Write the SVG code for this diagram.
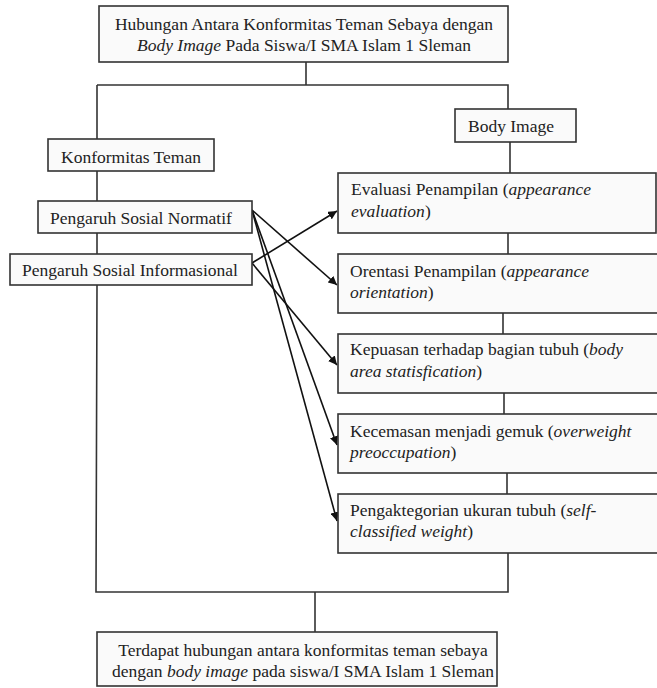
<svg xmlns="http://www.w3.org/2000/svg" width="657" height="688" viewBox="0 0 657 688">
<style>
.box{fill:#fafafa;stroke:#333;stroke-width:1.6}
.ln{fill:none;stroke:#333;stroke-width:1.6}
.ar{fill:none;stroke:#111;stroke-width:1.6}
text{font-family:"Liberation Serif","Times New Roman",serif;font-size:17.5px;fill:#222}
.c{text-anchor:middle}
.i{font-style:italic}
</style>
<defs>
<marker id="ah" viewBox="0 0 10 10" refX="10" refY="5" markerWidth="5.5" markerHeight="5.5" orient="auto" markerUnits="strokeWidth">
<path d="M0,0 L10,5 L0,10 z" fill="#111"/>
</marker>
</defs>
<rect width="657" height="688" fill="#fff"/>
<g id="connectors">
<line class="ln" x1="306" y1="62" x2="306" y2="85"/>
<polyline class="ln" points="97,85 508,85 508,109"/>
<line class="ln" x1="97" y1="85" x2="97" y2="139"/>
<line class="ln" x1="97" y1="171" x2="97" y2="201"/>
<line class="ln" x1="97" y1="233" x2="97" y2="254"/>
<polyline class="ln" points="97,285 96,592 508,592 508,553"/>
<line class="ln" x1="510" y1="142" x2="510" y2="173"/>
<line class="ln" x1="508" y1="233" x2="508" y2="254"/>
<line class="ln" x1="503" y1="313" x2="503" y2="334"/>
<line class="ln" x1="504" y1="393" x2="504" y2="414"/>
<line class="ln" x1="507" y1="473" x2="507" y2="494"/>
<line class="ln" x1="315" y1="592" x2="315" y2="632"/>
<line class="ar" x1="252" y1="210" x2="337" y2="285" marker-end="url(#ah)"/>
<line class="ar" x1="252" y1="210" x2="337" y2="445" marker-end="url(#ah)"/>
<line class="ar" x1="252" y1="210" x2="337" y2="521" marker-end="url(#ah)"/>
<line class="ar" x1="252" y1="263" x2="337" y2="211" marker-end="url(#ah)"/>
<line class="ar" x1="252" y1="263" x2="337" y2="365" marker-end="url(#ah)"/>
</g>
<g id="title">
<rect class="box" x="99" y="6" width="409" height="56"/>
<text class="c" x="304" y="30">Hubungan Antara Konformitas Teman Sebaya dengan</text>
<text class="c" x="304" y="51"><tspan class="i">Body Image</tspan> Pada Siswa/I SMA Islam 1 Sleman</text>
</g>
<g id="konformitas">
<rect class="box" x="48" y="139" width="166" height="32"/>
<text class="c" x="131" y="163">Konformitas Teman</text>
</g>
<g id="normatif">
<rect class="box" x="38" y="201" width="214" height="32"/>
<text class="c" x="141" y="224">Pengaruh Sosial Normatif</text>
</g>
<g id="informasional">
<rect class="box" x="10" y="254" width="242" height="31"/>
<text class="c" x="130" y="276">Pengaruh Sosial Informasional</text>
</g>
<g id="bodyimage">
<rect class="box" x="455" y="109" width="121" height="33"/>
<text class="c" x="511" y="132">Body Image</text>
</g>
<g id="evaluasi">
<rect class="box" x="338" y="173" width="318" height="60"/>
<text x="351" y="195">Evaluasi Penampilan (<tspan class="i">appearance</tspan></text>
<text x="351" y="217"><tspan class="i">evaluation</tspan>)</text>
</g>
<g id="orientasi">
<rect class="box" x="338" y="254" width="320" height="59"/>
<text x="350" y="277">Orentasi Penampilan (<tspan class="i">appearance</tspan></text>
<text x="350" y="298"><tspan class="i">orientation</tspan>)</text>
</g>
<g id="kepuasan">
<rect class="box" x="338" y="334" width="322" height="59"/>
<text x="350" y="355">Kepuasan terhadap bagian tubuh (<tspan class="i">body</tspan></text>
<text x="350" y="377"><tspan class="i">area statisfication</tspan>)</text>
</g>
<g id="kecemasan">
<rect class="box" x="338" y="414" width="322" height="59"/>
<text x="350" y="437">Kecemasan menjadi gemuk (<tspan class="i">overweight</tspan></text>
<text x="350" y="458"><tspan class="i">preoccupation</tspan>)</text>
</g>
<g id="pengaktegorian">
<rect class="box" x="338" y="494" width="322" height="59"/>
<text x="350" y="516">Pengaktegorian ukuran tubuh (<tspan class="i">self-</tspan></text>
<text x="350" y="537"><tspan class="i">classified weight</tspan>)</text>
</g>
<g id="kesimpulan">
<rect class="box" x="97" y="632" width="400" height="54"/>
<text class="c" x="303" y="656">Terdapat hubungan antara konformitas teman sebaya</text>
<text class="c" x="303" y="677">dengan <tspan class="i">body image</tspan> pada siswa/I SMA Islam 1 Sleman</text>
</g>
</svg>
